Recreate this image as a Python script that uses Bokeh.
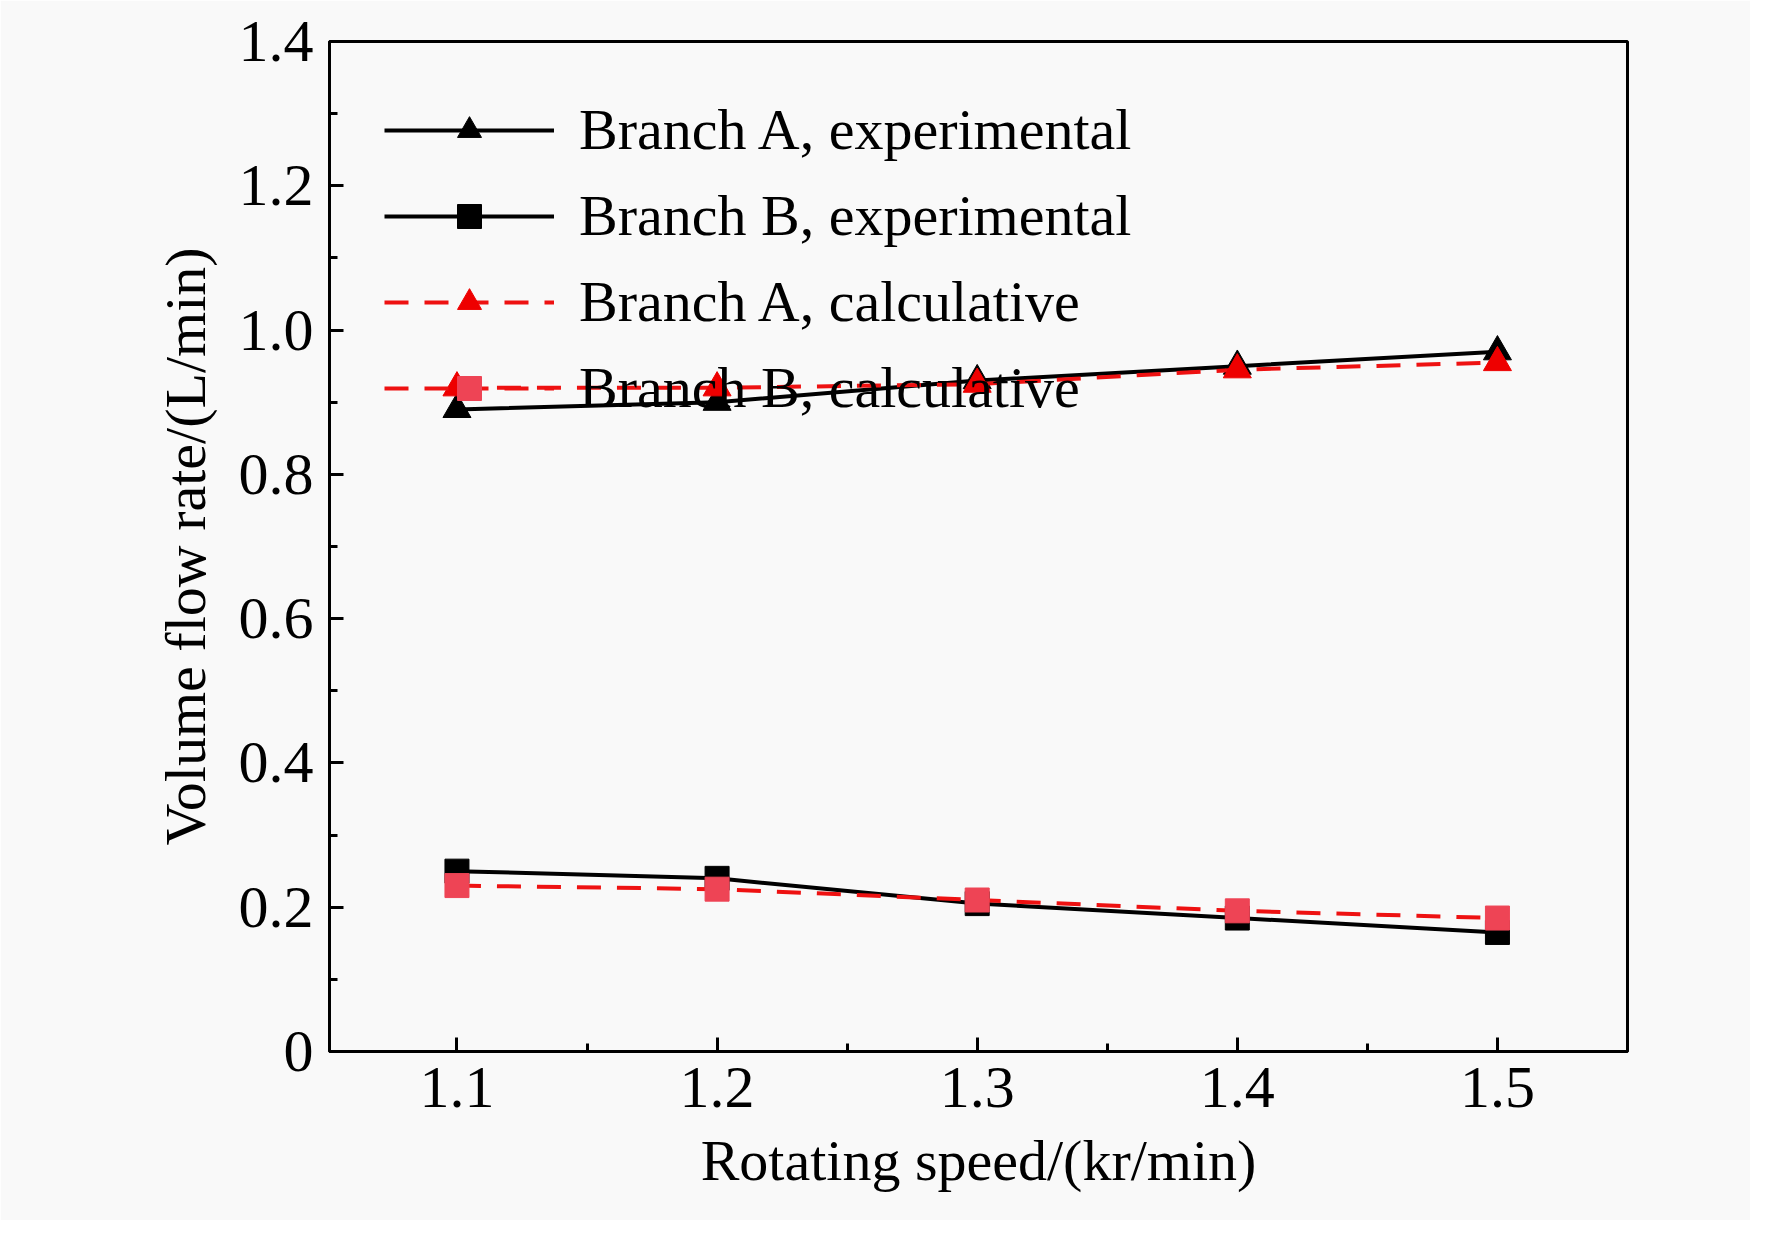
from bokeh.plotting import figure
from bokeh.models import Range1d, FixedTicker, Legend, LegendItem
from bokeh.embed import file_html
from bokeh.resources import INLINE

speed = [1.1, 1.2, 1.3, 1.4, 1.5]
a_exp = [0.89, 0.90, 0.93, 0.95, 0.97]
b_exp = [0.25, 0.24, 0.205, 0.185, 0.165]
a_calc = [0.92, 0.92, 0.925, 0.945, 0.955]
b_calc = [0.23, 0.225, 0.21, 0.195, 0.185]
yticks = [0, 0.2, 0.4, 0.6, 0.8, 1.0, 1.2, 1.4]

F = "Liberation Serif"
p = figure(width=1750, height=1220, output_backend="svg", toolbar_location=None,
           x_range=Range1d(1.051, 1.55), y_range=Range1d(0, 1.4),
           min_border_left=329, min_border_right=123, min_border_top=41, min_border_bottom=169,
           x_axis_label="Rotating speed/(kr/min)", y_axis_label="Volume flow rate/(L/min)")
p.grid.visible = False
p.outline_line_color = "black"; p.outline_line_width = 3
p.background_fill_color = "#f9f9f9"; p.border_fill_color = "#f9f9f9"
p.xaxis.ticker = FixedTicker(ticks=speed, minor_ticks=[1.05, 1.15, 1.25, 1.35, 1.45, 1.55])
p.yaxis.ticker = FixedTicker(ticks=yticks, minor_ticks=[0.1, 0.3, 0.5, 0.7, 0.9, 1.1, 1.3])
p.yaxis.major_label_overrides = {0: "0", 1.0: "1.0"}
for ax in (p.xaxis, p.yaxis):
    ax.axis_line_width = 3
    ax.major_tick_in = 14; ax.major_tick_out = 0
    ax.minor_tick_in = 8; ax.minor_tick_out = 0
    ax.major_tick_line_width = 3; ax.minor_tick_line_width = 3
    ax.major_label_text_font = F; ax.major_label_text_font_size = "60px"
    ax.major_label_text_color = "black"
    ax.axis_label_text_font = F; ax.axis_label_text_font_size = "58px"
    ax.axis_label_text_font_style = "normal"; ax.axis_label_text_color = "black"
    ax.major_label_standoff = 16
p.xaxis.axis_label_standoff = 18
p.yaxis.axis_label_standoff = 18

l1 = p.line(speed, a_exp, line_color="black", line_width=4)
m1 = p.scatter(speed, a_exp, marker="triangle", size=28, color="black")
l2 = p.line(speed, b_exp, line_color="black", line_width=4)
m2 = p.scatter(speed, b_exp, marker="square", size=24, color="black")
l3 = p.line(speed, a_calc, line_color="#ee1111", line_width=4, line_dash="24 16")
m3 = p.scatter(speed, a_calc, marker="triangle", size=28, color="#ee0000")
l4 = p.line(speed, b_calc, line_color="#ee1111", line_width=4, line_dash="24 16")
m4 = p.scatter(speed, b_calc, marker="square", size=24, color="#ee4455")

leg = Legend(items=[
    LegendItem(label="Branch A, experimental", renderers=[l1, m1]),
    LegendItem(label="Branch B, experimental", renderers=[l2, m2]),
    LegendItem(label="Branch A, calculative", renderers=[l3, m3]),
    LegendItem(label="Branch B, calculative", renderers=[l4, m4]),
], location="top_left")
leg.border_line_color = None; leg.background_fill_alpha = 0
leg.label_text_font = F; leg.label_text_font_size = "58px"
leg.label_text_color = "black"
leg.glyph_width = 170; leg.glyph_height = 60; leg.spacing = 19
leg.margin = 55; leg.padding = 0; leg.label_standoff = 25
p.add_layout(leg)

open("out.html", "w").write(file_html(p, INLINE))
